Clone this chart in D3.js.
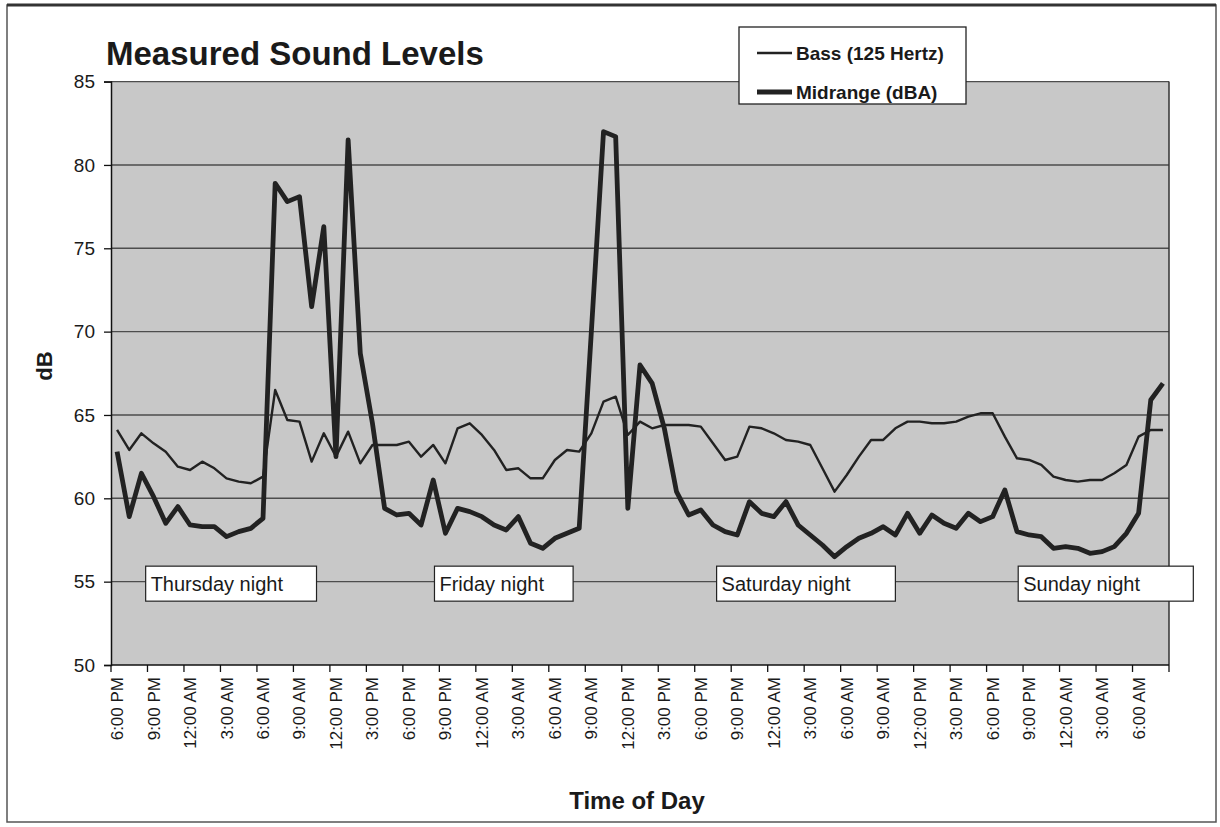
<!DOCTYPE html>
<html>
<head>
<meta charset="utf-8">
<script src="https://cdn.jsdelivr.net/npm/d3@7"></script>
<style>
  body { margin: 0; background: #fff; }
  svg text { font-family: "Liberation Sans", Arial, sans-serif; fill: #1a1a1a; }
</style>
</head>
<body>
<div id="chart"></div>
<script>
// hourly readings, Thursday 6 PM through Monday 8 AM
const bass = [
  64.1, 62.9, 63.9, 63.3, 62.8, 61.9, 61.7, 62.2, 61.8, 61.2, 61.0, 60.9, 61.3,
  66.5, 64.7, 64.6, 62.2, 63.9, 62.5, 64.0, 62.1, 63.2, 63.2, 63.2, 63.4, 62.5,
  63.2, 62.1, 64.2, 64.5, 63.8, 62.9, 61.7, 61.8, 61.2, 61.2, 62.3, 62.9, 62.8,
  63.9, 65.8, 66.1, 63.8, 64.6, 64.2, 64.4, 64.4, 64.4, 64.3, 63.3, 62.3, 62.5,
  64.3, 64.2, 63.9, 63.5, 63.4, 63.2, 61.8, 60.4, 61.4, 62.5, 63.5, 63.5, 64.2,
  64.6, 64.6, 64.5, 64.5, 64.6, 64.9, 65.1, 65.1, 63.7, 62.4, 62.3, 62.0, 61.3,
  61.1, 61.0, 61.1, 61.1, 61.5, 62.0, 63.7, 64.1, 64.1
];
const midrange = [
  62.8, 58.9, 61.5, 60.1, 58.5, 59.5, 58.4, 58.3, 58.3, 57.7, 58.0, 58.2, 58.8,
  78.9, 77.8, 78.1, 71.5, 76.3, 62.5, 81.5, 68.7, 64.5, 59.4, 59.0, 59.1, 58.4,
  61.1, 57.9, 59.4, 59.2, 58.9, 58.4, 58.1, 58.9, 57.3, 57.0, 57.6, 57.9, 58.2,
  70.0, 82.0, 81.7, 59.4, 68.0, 66.9, 64.2, 60.4, 59.0, 59.3, 58.4, 58.0, 57.8,
  59.8, 59.1, 58.9, 59.8, 58.4, 57.8, 57.2, 56.5, 57.1, 57.6, 57.9, 58.3, 57.8,
  59.1, 57.9, 59.0, 58.5, 58.2, 59.1, 58.6, 58.9, 60.5, 58.0, 57.8, 57.7, 57.0,
  57.1, 57.0, 56.7, 56.8, 57.1, 57.9, 59.1, 65.9, 66.9
];
const tickLabels = [
  "6:00 PM", "9:00 PM", "12:00 AM", "3:00 AM", "6:00 AM", "9:00 AM", "12:00 PM", "3:00 PM",
  "6:00 PM", "9:00 PM", "12:00 AM", "3:00 AM", "6:00 AM", "9:00 AM", "12:00 PM", "3:00 PM",
  "6:00 PM", "9:00 PM", "12:00 AM", "3:00 AM", "6:00 AM", "9:00 AM", "12:00 PM", "3:00 PM",
  "6:00 PM", "9:00 PM", "12:00 AM", "3:00 AM", "6:00 AM"
];
const yTicks = [50, 55, 60, 65, 70, 75, 80, 85];
// night labels: text and the span of hours the box covers
const nightNames = ["Thursday night", "Friday night", "Saturday night", "Sunday night"];
const nightFrom = [2.85, 26.6, 49.8, 74.6];
const nightTo = [16.9, 38.0, 64.5, 89.0];

const width = 1220, height = 827;
const plotL = 111, plotR = 1169, plotT = 81.6, plotB = 665;

const svg = d3.select("#chart").append("svg")
  .attr("width", width)
  .attr("height", height);

// outer frame
svg.append("rect")
  .attr("x", 7).attr("y", 5)
  .attr("width", 1209).attr("height", 817)
  .attr("fill", "none")
  .attr("stroke", "#555")
  .attr("stroke-width", 1.5);
svg.append("line")
  .attr("x1", 7).attr("x2", 1216).attr("y1", 5).attr("y2", 5)
  .attr("stroke", "#333").attr("stroke-width", 3);

const hours = d3.range(bass.length);
const x = d3.scaleBand().domain(hours).range([plotL, plotR]).padding(0);
const bw = x.bandwidth();
const cx = i => x(i) + bw / 2;
const xs = d3.scaleLinear().domain([0, bass.length]).range([plotL, plotR]);
const y = d3.scaleLinear().domain([50, 85]).range([plotB, plotT]);

// plot background
svg.append("rect")
  .attr("x", plotL).attr("y", plotT)
  .attr("width", plotR - plotL).attr("height", plotB - plotT)
  .attr("fill", "#c8c8c8");

// gridlines
svg.append("g").selectAll("line")
  .data(yTicks.filter(d => d > 50))
  .join("line")
  .attr("x1", plotL).attr("x2", plotR)
  .attr("y1", d => y(d)).attr("y2", d => y(d))
  .attr("stroke", "#4d4d4d")
  .attr("stroke-width", 1.4);

// right edge of plot
svg.append("line")
  .attr("x1", plotR).attr("x2", plotR)
  .attr("y1", plotT).attr("y2", plotB)
  .attr("stroke", "#333").attr("stroke-width", 1.5);

// y axis
const yAxis = d3.axisLeft(y).tickValues(yTicks).tickSize(7).tickPadding(9);
const gy = svg.append("g").attr("transform", `translate(${plotL},0)`).call(yAxis);
gy.select(".domain").attr("stroke", "#111").attr("stroke-width", 1.5);
gy.selectAll(".tick line").attr("stroke", "#111").attr("stroke-width", 1.3);
gy.selectAll(".tick text")
  .style("font-size", "19px")
  .style("font-family", '"Liberation Sans", Arial, sans-serif')
  .attr("fill", "#111");

// x axis: ticks every 3 hours, labels at the first hour of each group
const tickPos = d3.range(0, bass.length + 1, 3);
const gx = svg.append("g");
gx.append("line")
  .attr("x1", plotL).attr("x2", plotR)
  .attr("y1", plotB).attr("y2", plotB)
  .attr("stroke", "#111").attr("stroke-width", 1.5);
gx.selectAll("line.tk")
  .data(tickPos)
  .join("line")
  .attr("class", "tk")
  .attr("x1", d => xs(d)).attr("x2", d => xs(d))
  .attr("y1", plotB).attr("y2", plotB + 7)
  .attr("stroke", "#111").attr("stroke-width", 1.3);
gx.selectAll("text")
  .data(tickLabels)
  .join("text")
  .attr("transform", (d, i) => `translate(${cx(i * 3) + 6},${plotB + 12}) rotate(-90)`)
  .attr("text-anchor", "end")
  .style("font-size", "17px")
  .text(d => d);

// lines
const line = d3.line().x((d, i) => cx(i)).y(d => y(d));
svg.append("path")
  .datum(bass)
  .attr("d", line)
  .attr("fill", "none")
  .attr("stroke", "#222")
  .attr("stroke-width", 2.4)
  .attr("stroke-linejoin", "round");
svg.append("path")
  .datum(midrange)
  .attr("d", line)
  .attr("fill", "none")
  .attr("stroke", "#222")
  .attr("stroke-width", 4.8)
  .attr("stroke-linejoin", "round");

// night boxes
const notes = svg.append("g").selectAll("g")
  .data(nightNames)
  .join("g");
notes.append("rect")
  .attr("x", (d, i) => xs(nightFrom[i]))
  .attr("y", y(55) - 15.5)
  .attr("width", (d, i) => xs(nightTo[i]) - xs(nightFrom[i]))
  .attr("height", 35)
  .attr("fill", "#fff")
  .attr("stroke", "#222")
  .attr("stroke-width", 1.2);
notes.append("text")
  .attr("x", (d, i) => xs(nightFrom[i]) + 5)
  .attr("y", y(55) + 9)
  .style("font-size", "20px")
  .text(d => d);

// title
svg.append("text")
  .attr("x", 106).attr("y", 65)
  .style("font-size", "33px")
  .style("font-weight", "bold")
  .attr("fill", "#111")
  .text("Measured Sound Levels");

// axis titles
svg.append("text")
  .attr("transform", "translate(52,366) rotate(-90)")
  .attr("text-anchor", "middle")
  .style("font-size", "22px")
  .style("font-weight", "bold")
  .text("dB");
svg.append("text")
  .attr("x", (plotL + plotR) / 2 - 3).attr("y", 809)
  .attr("text-anchor", "middle")
  .style("font-size", "24px")
  .style("font-weight", "bold")
  .text("Time of Day");

// legend
const lg = svg.append("g");
lg.append("rect")
  .attr("x", 739).attr("y", 27)
  .attr("width", 227).attr("height", 77)
  .attr("fill", "#fff")
  .attr("stroke", "#222")
  .attr("stroke-width", 1.3);
const legendItems = [["Bass (125 Hertz)", 2.4, 53], ["Midrange (dBA)", 4.8, 92]];
legendItems.forEach(([label, sw, ly]) => {
  lg.append("line")
    .attr("x1", 757).attr("x2", 792)
    .attr("y1", ly).attr("y2", ly)
    .attr("stroke", "#222").attr("stroke-width", sw);
  lg.append("text")
    .attr("x", 796).attr("y", ly + 6.5)
    .style("font-size", "19px")
    .style("font-weight", "bold")
    .text(label);
});
</script>
</body>
</html>
